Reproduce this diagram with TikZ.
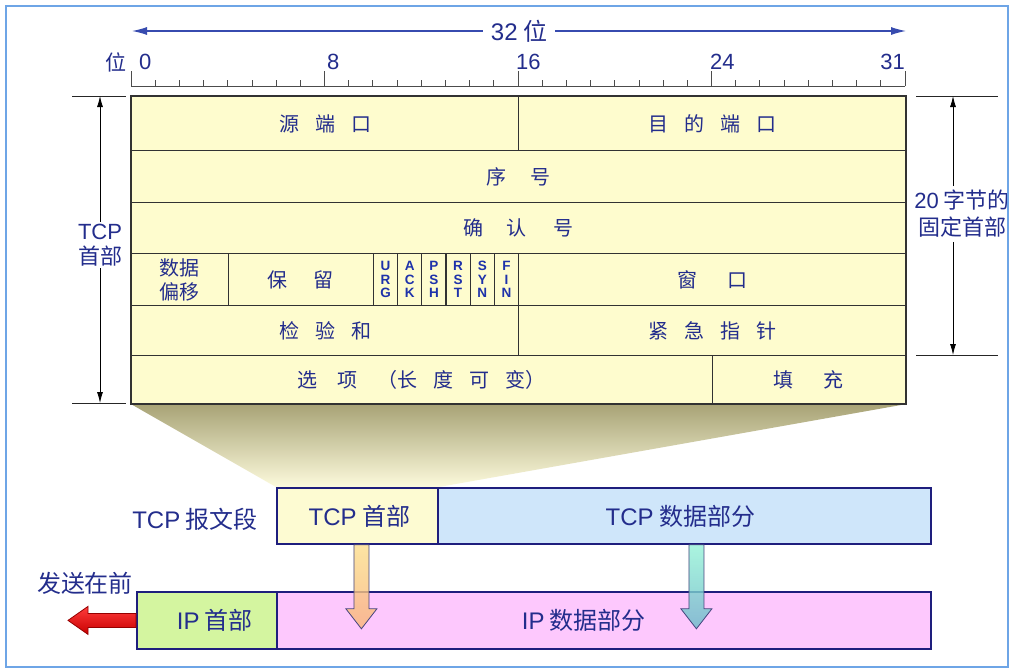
\documentclass[tikz,border=0pt]{standalone}
\usepackage{fontspec}
\setmainfont{Noto Sans CJK SC}
\newfontfamily\lat{Liberation Sans}
\usetikzlibrary{arrows.meta,calc,backgrounds}
\definecolor{tfill}{RGB}{254,252,206}
\definecolor{tline}{RGB}{50,50,50}
\definecolor{tblue}{RGB}{35,45,140}
\definecolor{flagblue}{RGB}{30,50,170}
\definecolor{navy}{RGB}{30,30,125}
\definecolor{byellow}{RGB}{253,251,210}
\definecolor{bblue}{RGB}{207,230,250}
\definecolor{bgreen}{RGB}{212,245,160}
\definecolor{bpink}{RGB}{253,200,253}
\definecolor{shTop}{RGB}{168,163,118}
\definecolor{shBot}{RGB}{252,250,220}
\definecolor{arrblue}{RGB}{55,75,175}
\definecolor{framec}{RGB}{110,165,230}
\newcommand{\gp}{\hspace{0.8em}}
\tikzset{
  cell/.style={draw=tline, line width=1.1pt, fill=tfill, inner sep=0pt, anchor=north west,
    text=tblue, font=\fontsize{20}{24}\selectfont, align=center},
  flag/.style={cell, minimum width=24.1875pt, minimum height=52pt,
    font=\lat\bfseries\fontsize{13.5}{13.5}\selectfont, text=flagblue},
  box/.style={draw=navy, line width=1.8pt, inner sep=0pt, anchor=north west,
    text=tblue, font=\fontsize{24}{28}\selectfont},
  lbl/.style={text=tblue, inner sep=2pt, align=center},
  num/.style={lbl, inner sep=0pt, font=\lat\fontsize{22}{24}\selectfont},
  dimline/.style={draw=black!85, line width=0.8pt},
  dimarrow/.style={draw=black, line width=0.8pt, -{Latex[length=11pt,width=6pt]}},
  blockarrow/.style={draw=arrowline, line width=0.8pt, fill opacity=0.8},
}
\colorlet{arrowline}{navy!60!gray}
\begin{document}
\begin{tikzpicture}[x=1pt,y=-1pt]
\useasboundingbox (0,0) rectangle (1015,672);

% ---- table cells ----
\node[cell, minimum width=387pt, minimum height=54pt] (src) at (131,96) {源\gp{}端\gp{}口};
\node[cell, minimum width=387pt, minimum height=54pt] (dst) at (518,96) {目\gp{}的\gp{}端\gp{}口};
\node[cell, minimum width=774pt, minimum height=52pt] (seq) at (131,150) {序\hspace{1.2em}号};
\node[cell, minimum width=774pt, minimum height=51pt] (ack) at (131,202) {确\hspace{1.15em}认\hspace{1.35em}号};
\node[cell, minimum width=96.75pt, minimum height=52pt, font=\fontsize{20}{24}\selectfont] (off) at (131,253) {数据\\偏移};
\node[cell, minimum width=145.125pt, minimum height=52pt] (rsv) at (227.75,253) {保\hspace{1.3em}留};
\node[flag] (urg) at (372.875,253) {U\\R\\G};
\node[flag] (ackf) at (397.0625,253) {A\\C\\K};
\node[flag] (psh) at (421.25,253) {P\\S\\H};
\node[flag] (rst) at (445.4375,253) {R\\S\\T};
\node[flag] (syn) at (469.625,253) {S\\Y\\N};
\node[flag] (fin) at (493.8125,253) {F\\I\\N};
\node[cell, minimum width=387pt, minimum height=52pt] (win) at (518,253) {窗\hspace{1.5em}口};
\node[cell, minimum width=387pt, minimum height=50pt] (chk) at (131,305) {检\gp{}验\gp{}和};
\node[cell, minimum width=387pt, minimum height=50pt] (urgp) at (518,305) {紧\gp{}急\gp{}指\gp{}针};
\node[cell, minimum width=580.5pt, minimum height=48pt] (opt) at (131,355) {选\hspace{1em}项\hspace{1em}（长\gp{}度\gp{}可\gp{}变）};
\node[cell, minimum width=193.5pt, minimum height=48pt] (pad) at (711.5,355) {填\hspace{1.5em}充};
\draw[tline, line width=2.4pt] (src.north west) rectangle (pad.south east);

% ---- ruler ----
\draw[black!70, line width=0.8pt] (131,86) -- (905,86);
\foreach \i in {0,...,32} {
  \draw[black!70, line width=0.8pt] ({131+\i*24.1875},86) -- ++(0,-6);
}
\foreach \i in {0,8,16,24,32} {
  \draw[black!70, line width=0.8pt] ({131+\i*24.1875},86) -- ++(0,-15);
}
\node[lbl, font=\fontsize{21}{24}\selectfont] (wei) at (116,62) {位};
\node[num, anchor=west] (n0) at (139,62) {0};
\node[num, anchor=west] (n8) at (327,62) {8};
\node[num, anchor=west] (n16) at (516,62) {16};
\node[num, anchor=west] (n24) at (710,62) {24};
\node[num, anchor=east] (n31) at (905,62) {31};

% ---- 32 bit arrow ----
\node[lbl, font=\fontsize{24}{28}\selectfont, inner sep=8pt] (t32) at (519,31) {{\lat 32} 位};
\coordinate (l32) at (132,31);
\coordinate (r32) at (906,31);
\draw[arrblue, line width=1.2pt, -{Latex[length=15pt,width=8pt]}] (t32) -- (l32);
\draw[arrblue, line width=1.2pt, -{Latex[length=15pt,width=8pt]}] (t32) -- (r32);

% ---- left dimension ----
\draw[dimline] (72,96) -- (126,96);
\draw[dimline] (72,403) -- (126,403);
\node[lbl, font=\fontsize{22}{25}\selectfont] (tcpl) at (100,245) {{\lat TCP}\\首部};
\coordinate (lt) at (100,96);
\coordinate (lb) at (100,403);
\draw[dimarrow] (tcpl) -- (lt);
\draw[dimarrow] (tcpl) -- (lb);

% ---- right dimension ----
\draw[dimline] (916,96) -- (998,96);
\draw[dimline] (916,355) -- (998,355);
\node[lbl, font=\fontsize{22}{27}\selectfont, inner sep=4pt] (fix) at (962,214) {{\lat 20} 字节的\\固定首部};
\coordinate (rt) at (953,96);
\coordinate (rb) at (953,355);
\draw[dimarrow] (fix.north -| rt) -- (rt);
\draw[dimarrow] (fix.south -| rb) -- (rb);

% ---- bottom boxes ----
\node[box, fill=byellow, minimum width=161pt, minimum height=56pt] (tcph) at (276,487) {\hspace*{4pt}{\lat TCP} 首部};
\node[box, fill=bblue, minimum width=493pt, minimum height=56pt] (tcpd) at (437,487) {{\lat TCP} 数据部分\rule{8pt}{0pt}};
\node[box, fill=bgreen, minimum width=140pt, minimum height=57pt] (iph) at (136,591) {\hspace*{16pt}{\lat IP} 首部};
\node[box, fill=bpink, minimum width=654pt, minimum height=57pt] (ipd) at (276,591) {{\lat IP} 数据部分\rule{40pt}{0pt}};

\node[lbl, font=\fontsize{24}{28}\selectfont] (seg) at (195,519) {{\lat TCP} 报文段};
\node[lbl, font=\fontsize{24}{28}\selectfont] (first) at (85,583) {发送在前};

% ---- zoom shading ----
\begin{scope}[on background layer]
  \fill[white] (0,0) rectangle (1015,672);
  \shade[top color=shTop, bottom color=shBot] (opt.south west) -- (pad.south east) -- (tcph.north east) -- (tcph.north west) -- cycle;
\end{scope}

% ---- block arrows ----
\coordinate (oa) at ($(tcph.south)+(4,0)$);
\path[blockarrow, top color={rgb,255:red,253;green,222;blue,140}, bottom color={rgb,255:red,248;green,180;blue,120}]
  (oa) ++(-7.5,0) -- ++(0,64) -- ++(-8,0) -- ++(15.5,20) -- ++(15.5,-20) -- ++(-8,0) -- ++(0,-64) -- cycle;
\coordinate (ta) at ($(tcpd.south)+(12,0)$);
\path[blockarrow, top color={rgb,255:red,150;green,242;blue,215}, bottom color={rgb,255:red,105;green,185;blue,200}]
  (ta) ++(-7.5,0) -- ++(0,64) -- ++(-8,0) -- ++(15.5,20) -- ++(15.5,-20) -- ++(-8,0) -- ++(0,-64) -- cycle;

% ---- red arrow ----
\path[draw={rgb,255:red,150;green,0;blue,0}, line width=0.8pt, top color={rgb,255:red,255;green,60;blue,60}, bottom color={rgb,255:red,200;green,0;blue,0}]
  (iph.west) ++(0,-7) -- ++(-48,0) -- ++(0,-7) -- ++(-20,14) -- ++(20,14) -- ++(0,-7) -- ++(48,0) -- cycle;

% ---- frame ----
\fill[white] (1009,0) rectangle (1015,672);
\draw[framec, line width=1.5pt] (6,6) rectangle (1008,667);
\end{tikzpicture}
\end{document}
